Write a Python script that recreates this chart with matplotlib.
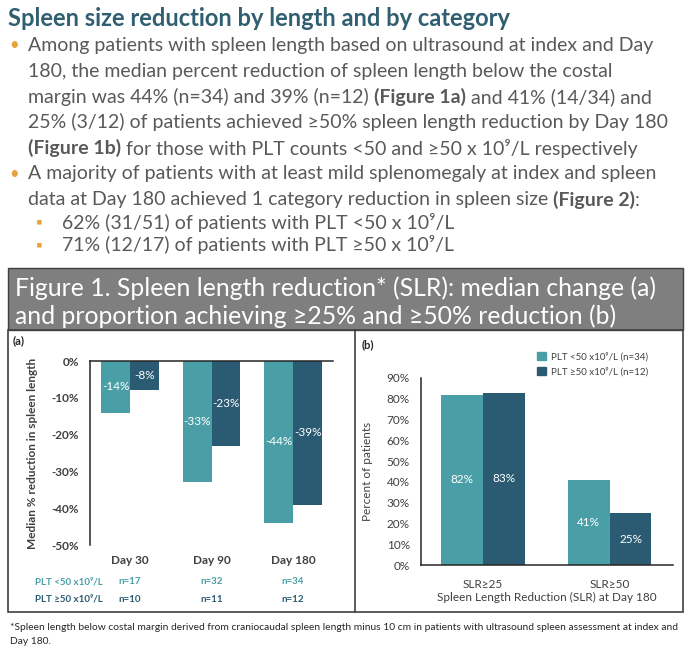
import matplotlib
matplotlib.use("Agg")
import matplotlib.pyplot as plt
from matplotlib.patches import Rectangle, Patch
from matplotlib.transforms import blended_transform_factory

plt.rcParams['font.family'] = ['Lato', 'DejaVu Sans']

# data
days = ['Day 30', 'Day 90', 'Day 180']
median_low = [-14, -33, -44]     # PLT <50
median_high = [-8, -23, -39]     # PLT >=50
n_low = [17, 32, 34]
n_high = [10, 11, 12]

slr_cats = ['SLR≥25', 'SLR≥50']
pct_low = [82, 41]
pct_high = [83, 25]

LIGHT = '#4a9fa7'
DARK = '#2b5b72'
TITLE = '#2f5f70'
GRAY_TXT = '#595959'
ORANGE = '#e8a33d'

W, H = 687, 652
fig = plt.figure(figsize=(W / 100, H / 100), dpi=100)
renderer = fig.canvas.get_renderer()


def fx(x):
    return x / W


def fy(y):
    return 1 - y / H


def runs(x, y, parts, size, color):
    # draw text pieces one after another, some of them bold
    for txt, weight in parts:
        t = fig.text(fx(x), fy(y), txt, fontsize=size, color=color,
                     fontweight=weight, va='center', ha='left')
        x += t.get_window_extent(renderer).width


# heading and bullets
fig.text(fx(8), fy(18), 'Spleen size reduction by length and by category',
         fontsize=17, fontweight='bold', color=TITLE, va='center')

bsize = 14
lines = [
    (45, True, [('Among patients with spleen length based on ultrasound at index and Day', 'normal')]),
    (71, False, [('180, the median percent reduction of spleen length below the costal', 'normal')]),
    (97, False, [('margin was 44% (n=34) and 39% (n=12) ', 'normal'), ('(Figure 1a)', 'bold'),
                 (' and 41% (14/34) and', 'normal')]),
    (122, False, [('25% (3/12) of patients achieved ≥50% spleen length reduction by Day 180', 'normal')]),
    (148, False, [('(Figure 1b)', 'bold'), (' for those with PLT counts <50 and ≥50 x 10⁹/L respectively', 'normal')]),
    (174, True, [('A majority of patients with at least mild splenomegaly at index and spleen', 'normal')]),
    (200, False, [('data at Day 180 achieved 1 category reduction in spleen size ', 'normal'),
                  ('(Figure 2)', 'bold'), (':', 'normal')]),
]
for y, bullet, parts in lines:
    if bullet:
        fig.text(fx(9), fy(y), '•', fontsize=12, color=ORANGE, va='center')
    runs(28, y, parts, bsize, GRAY_TXT)

for y, txt in [(222, '62% (31/51) of patients with PLT <50 x 10⁹/L'),
               (245, '71% (12/17) of patients with PLT ≥50 x 10⁹/L')]:
    fig.text(fx(36), fy(y), '▪', fontsize=12, color=ORANGE, va='center')
    runs(62, y, [(txt, 'normal')], bsize, GRAY_TXT)

# figure box
fig.patches.append(Rectangle((fx(8), fy(330)), fx(675), (330 - 268) / H,
                             transform=fig.transFigure, facecolor='#7f7f7f',
                             edgecolor='#404040', lw=1.0))
fig.patches.append(Rectangle((fx(8), fy(612)), fx(675), (612 - 330) / H,
                             transform=fig.transFigure, facecolor='none',
                             edgecolor='#404040', lw=1.2))
fig.add_artist(plt.Line2D([fx(355), fx(355)], [fy(330), fy(612)],
                          transform=fig.transFigure, color='#404040', lw=1.2))
fig.text(fx(15), fy(288), 'Figure 1. Spleen length reduction* (SLR): median change (a)',
         fontsize=17.8, color='white', va='center')
fig.text(fx(15), fy(316), 'and proportion achieving ≥25% and ≥50% reduction (b)',
         fontsize=17.8, color='white', va='center')

# panel (a)
ax1 = fig.add_axes([fx(90), fy(545), (333 - 90) / W, (545 - 361) / H])
bw = 0.355
xs = list(range(len(days)))
ax1.bar([x - bw / 2 for x in xs], median_low, bw, color=LIGHT)
ax1.bar([x + bw / 2 for x in xs], median_high, bw, color=DARK)
for x, v in zip(xs, median_low):
    ax1.text(x - bw / 2, v / 2, f'{v}%', color='white', ha='center', va='center', fontsize=8.5)
for x, v in zip(xs, median_high):
    ax1.text(x + bw / 2, v / 2, f'{v}%', color='white', ha='center', va='center', fontsize=8.5)
ax1.set_ylim(-50, 0)
ax1.set_xlim(-0.49, 2.49)
ax1.set_yticks(range(-50, 1, 10))
ax1.set_yticklabels([f'{t}%' for t in range(-50, 1, 10)])
ax1.set_xticks(xs)
ax1.set_xticklabels(days, fontweight='bold')
ax1.tick_params(length=0, labelsize=8.5, colors='#404040', pad=8)
ax1.tick_params(axis='x', labelsize=8.5, pad=7)
for lab in ax1.get_yticklabels():
    lab.set_fontweight('bold')
for s in ['right', 'bottom']:
    ax1.spines[s].set_visible(False)
for s in ['left', 'top']:
    ax1.spines[s].set_color('#262626')
    ax1.spines[s].set_linewidth(1.1)
ax1.set_ylabel('Median % reduction in spleen length', fontsize=8.5, color='#404040',
               fontweight='bold')
ax1.yaxis.set_label_coords((38 - 90) / (333 - 90), 0.5)
fig.text(fx(13), fy(341), '(a)', fontsize=8, color='#262626', fontweight='bold', va='center')

tr = blended_transform_factory(ax1.transData, fig.transFigure)
fig.text(fx(35), fy(582), 'PLT <50 x10⁹/L', fontsize=7, color=LIGHT, fontweight='bold', va='center')
fig.text(fx(35), fy(599), 'PLT ≥50 x10⁹/L', fontsize=7, color=DARK, fontweight='bold', va='center')
for x, a, b in zip(xs, n_low, n_high):
    ax1.text(x, fy(582), f'n={a}', transform=tr, fontsize=7, color=LIGHT, fontweight='bold',
             ha='center', va='center')
    ax1.text(x, fy(599), f'n={b}', transform=tr, fontsize=7, color=DARK, fontweight='bold',
             ha='center', va='center')

# panel (b)
ax2 = fig.add_axes([fx(421), fy(565), (673 - 421) / W, (565 - 378) / H])
bw2 = 0.33
xs2 = list(range(len(slr_cats)))
ax2.bar([x - bw2 / 2 for x in xs2], pct_low, bw2, color=LIGHT)
ax2.bar([x + bw2 / 2 for x in xs2], pct_high, bw2, color=DARK)
for x, v in zip(xs2, pct_low):
    ax2.text(x - bw2 / 2, v / 2, f'{v}%', color='white', ha='center', va='center', fontsize=8.5)
for x, v in zip(xs2, pct_high):
    ax2.text(x + bw2 / 2, v / 2, f'{v}%', color='white', ha='center', va='center', fontsize=8.5)
ax2.set_ylim(0, 90)
ax2.set_xlim(-0.49, 1.5)
ax2.set_yticks(range(0, 91, 10))
ax2.set_yticklabels([f'{t}%' for t in range(0, 91, 10)])
ax2.set_xticks(xs2)
ax2.set_xticklabels(slr_cats)
ax2.tick_params(length=0, labelsize=8.5, colors='#404040', pad=8)
ax2.tick_params(axis='x', pad=10)
for s in ['right', 'top']:
    ax2.spines[s].set_visible(False)
for s in ['left', 'bottom']:
    ax2.spines[s].set_color('#262626')
    ax2.spines[s].set_linewidth(1.1)
ax2.set_ylabel('Percent of patients', fontsize=8.5, color='#404040')
ax2.yaxis.set_label_coords((373 - 421) / (673 - 421), 0.5)
ax2.text(0.5, fy(597), 'Spleen Length Reduction (SLR) at Day 180',
         transform=blended_transform_factory(ax2.transAxes, fig.transFigure),
         fontsize=8.5, color='#404040', ha='center', va='center')
fig.text(fx(362), fy(345), '(b)', fontsize=8, color='#262626', fontweight='bold', va='center')

handles = [Patch(color=LIGHT, label='PLT <50 x10⁹/L (n=34)'),
           Patch(color=DARK, label='PLT ≥50 x10⁹/L (n=12)')]
fig.legend(handles=handles, loc='upper left', bbox_to_anchor=(fx(528), fy(343)),
           frameon=False, fontsize=7, handlelength=0.9, handleheight=0.9,
           handletextpad=0.6, labelspacing=0.6, labelcolor='#404040')

# footnote
fig.text(fx(10), fy(628), '*Spleen length below costal margin derived from craniocaudal spleen length '
         'minus 10 cm in patients with ultrasound spleen assessment at index and',
         fontsize=7.4, color='#262626', va='center')
fig.text(fx(10), fy(642), 'Day 180.', fontsize=7.4, color='#262626', va='center')

fig.savefig('out.png', dpi=100)
